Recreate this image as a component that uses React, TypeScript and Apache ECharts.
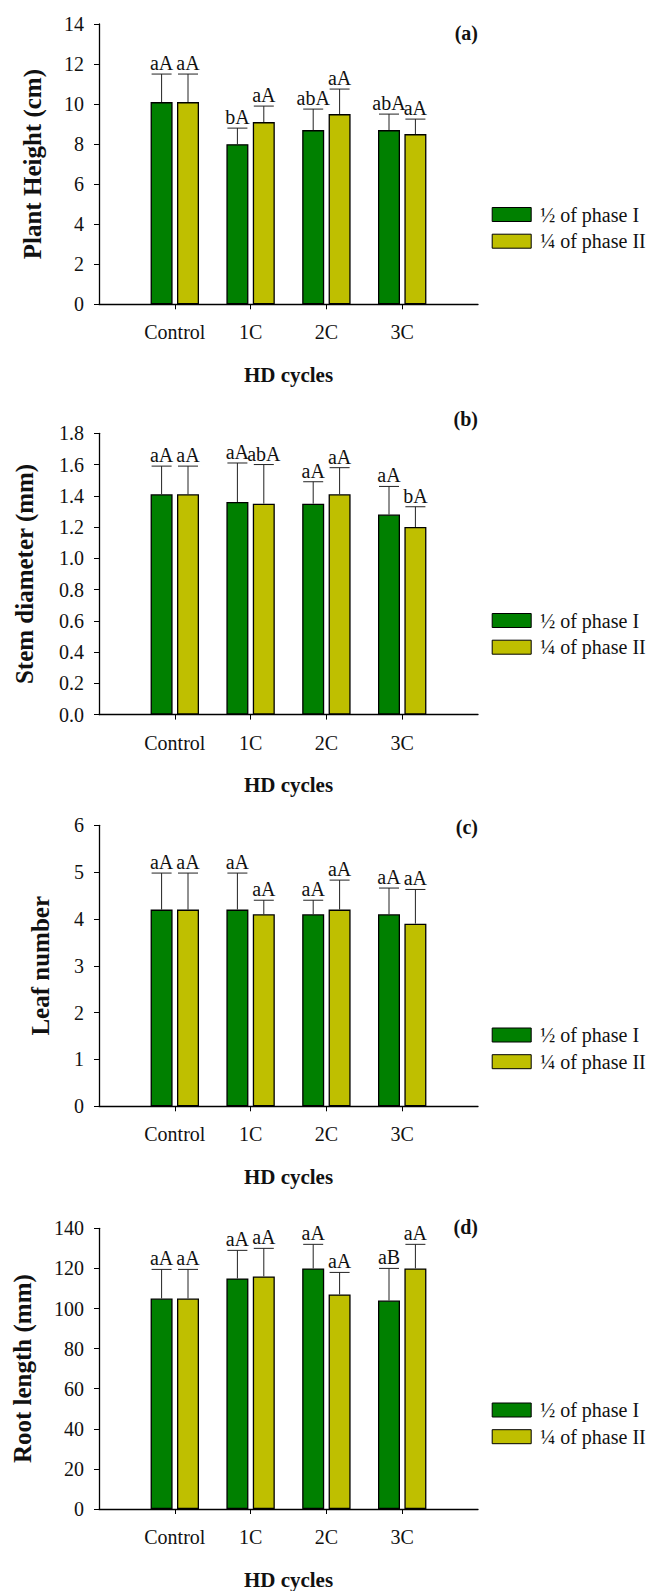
import React, { useEffect, useRef } from "react";
import * as echarts from "echarts";

const categories = ["Control", "1C", "2C", "3C"];
const seriesNames = ["½ of phase I", "¼ of phase II"];

// (a) Plant height (cm)
const heightHalf = [10.1, 8.0, 8.7, 8.7];
const heightHalfSd = [1.4, 0.8, 1.05, 0.8];
const heightQuarter = [10.1, 9.1, 9.5, 8.5];
const heightQuarterSd = [1.4, 0.8, 1.25, 0.75];
const heightHalfLetters = ["aA", "bA", "abA", "abA"];
const heightQuarterLetters = ["aA", "aA", "aA", "aA"];

// (b) Stem diameter (mm)
const stemHalf = [1.41, 1.36, 1.35, 1.28];
const stemHalfSd = [0.18, 0.25, 0.14, 0.18];
const stemQuarter = [1.41, 1.35, 1.41, 1.2];
const stemQuarterSd = [0.18, 0.25, 0.17, 0.13];
const stemHalfLetters = ["aA", "aA", "aA", "aA"];
const stemQuarterLetters = ["aA", "abA", "aA", "bA"];

// (c) Leaf number
const leafHalf = [4.2, 4.2, 4.1, 4.1];
const leafHalfSd = [0.78, 0.78, 0.3, 0.56];
const leafQuarter = [4.2, 4.1, 4.2, 3.9];
const leafQuarterSd = [0.78, 0.3, 0.63, 0.73];
const leafHalfLetters = ["aA", "aA", "aA", "aA"];
const leafQuarterLetters = ["aA", "aA", "aA", "aA"];

// (d) Root length (mm)
const rootHalf = [105, 115, 120, 104];
const rootHalfSd = [14.5, 14, 12, 16];
const rootQuarter = [105, 116, 107, 120];
const rootQuarterSd = [14.5, 14, 11, 12];
const rootHalfLetters = ["aA", "aA", "aA", "aB"];
const rootQuarterLetters = ["aA", "aA", "aA", "aA"];

const FONT = '"Liberation Serif", "Times New Roman", serif';
const GREEN = "#008000";
const YELLOW = "#BFBF00";

type Panel = {
  tag: string;
  yTitle: string;
  max: number;
  interval: number;
  decimals: number;
  half: number[];
  halfSd: number[];
  quarter: number[];
  quarterSd: number[];
  halfLetters: string[];
  quarterLetters: string[];
  top: number;
  height: number;
  nameGap: number;
  tagY: number;
  legendTop: number;
};

const panels: Panel[] = [
  {
    tag: "(a)", yTitle: "Plant Height (cm)", max: 14, interval: 2, decimals: 0,
    half: heightHalf, halfSd: heightHalfSd, quarter: heightQuarter, quarterSd: heightQuarterSd,
    halfLetters: heightHalfLetters, quarterLetters: heightQuarterLetters,
    top: 24, height: 280.3, nameGap: 54, tagY: 34, legendTop: 204.5,
  },
  {
    tag: "(b)", yTitle: "Stem diameter (mm)", max: 1.8, interval: 0.2, decimals: 1,
    half: stemHalf, halfSd: stemHalfSd, quarter: stemQuarter, quarterSd: stemQuarterSd,
    halfLetters: stemHalfLetters, quarterLetters: stemQuarterLetters,
    top: 433.3, height: 281.3, nameGap: 62, tagY: 420, legendTop: 610.5,
  },
  {
    tag: "(c)", yTitle: "Leaf number", max: 6, interval: 1, decimals: 0,
    half: leafHalf, halfSd: leafHalfSd, quarter: leafQuarter, quarterSd: leafQuarterSd,
    halfLetters: leafHalfLetters, quarterLetters: leafQuarterLetters,
    top: 825.3, height: 281, nameGap: 46, tagY: 828, legendTop: 1025,
  },
  {
    tag: "(d)", yTitle: "Root length (mm)", max: 140, interval: 20, decimals: 0,
    half: rootHalf, halfSd: rootHalfSd, quarter: rootQuarter, quarterSd: rootQuarterSd,
    halfLetters: rootHalfLetters, quarterLetters: rootQuarterLetters,
    top: 1228.3, height: 281.4, nameGap: 64, tagY: 1228, legendTop: 1400,
  },
];

const GRID_LEFT = 99;
const GRID_RIGHT_EDGE = 478;
const BAR_W = 22;
const BAR_GAP = "20%";
const BAR_OFFSET = 13.2;
const CAP_W = 20;

function errorSeries(p: Panel, i: number, which: 0 | 1) {
  const means = which === 0 ? p.half : p.quarter;
  const sds = which === 0 ? p.halfSd : p.quarterSd;
  const letters = which === 0 ? p.halfLetters : p.quarterLetters;
  const dx = which === 0 ? -BAR_OFFSET : BAR_OFFSET;
  return {
    type: "custom",
    xAxisIndex: i,
    yAxisIndex: i,
    z: 5,
    silent: true,
    data: means.map((m, k) => [k + 1, m, m + sds[k]]),
    renderItem: (params: any, api: any) => {
      const base = api.coord([api.value(0), api.value(1)]);
      const top = api.coord([api.value(0), api.value(2)]);
      const x = base[0] + dx;
      return {
        type: "group",
        children: [
          {
            type: "line",
            shape: { x1: x, y1: base[1], x2: x, y2: top[1] },
            style: { stroke: "#222", lineWidth: 1 },
          },
          {
            type: "line",
            shape: { x1: x - CAP_W / 2, y1: top[1], x2: x + CAP_W / 2, y2: top[1] },
            style: { stroke: "#222", lineWidth: 1 },
          },
          {
            type: "text",
            style: {
              text: letters[params.dataIndex],
              x: x,
              y: top[1] - 1,
              align: "center",
              verticalAlign: "bottom",
              fontSize: 20,
              fontFamily: FONT,
              fill: "#111",
            },
          },
        ],
      };
    },
  };
}

export default function App() {
  const ref = useRef<HTMLDivElement>(null);

  useEffect(() => {
    if (!ref.current) return;
    const chart = echarts.init(ref.current, undefined, { renderer: "svg" });
    const axisCats = ["", ...categories, " "];

    const grid: any[] = [];
    const xAxis: any[] = [];
    const yAxis: any[] = [];
    const series: any[] = [];
    const legend: any[] = [];
    const graphic: any[] = [];

    panels.forEach((p, i) => {
      grid.push({
        left: GRID_LEFT,
        width: GRID_RIGHT_EDGE - GRID_LEFT,
        top: p.top,
        height: p.height,
        containLabel: false,
      });
      xAxis.push({
        type: "category",
        gridIndex: i,
        data: axisCats,
        boundaryGap: false,
        axisLine: { show: true, lineStyle: { color: "#000", width: 1.3 } },
        axisTick: {
          show: true,
          inside: false,
          length: 5,
          interval: (index: number) => index >= 1 && index <= categories.length,
          lineStyle: { color: "#000", width: 1 },
        },
        axisLabel: {
          interval: 0,
          margin: 18,
          fontSize: 20,
          fontFamily: FONT,
          color: "#111",
        },
        splitLine: { show: false },
        name: "HD cycles",
        nameLocation: "middle",
        nameGap: 60,
        nameTextStyle: { fontSize: 21, fontWeight: "bold", fontFamily: FONT, color: "#111" },
      });
      yAxis.push({
        type: "value",
        gridIndex: i,
        min: 0,
        max: p.max,
        interval: p.interval,
        axisLine: { show: true, lineStyle: { color: "#000", width: 1.3 } },
        axisTick: { show: true, inside: false, length: 5, lineStyle: { color: "#000", width: 1 } },
        axisLabel: {
          margin: 15,
          fontSize: 20,
          fontFamily: FONT,
          color: "#111",
          formatter: (v: number) => v.toFixed(p.decimals),
        },
        splitLine: { show: false },
        name: p.yTitle,
        nameLocation: "middle",
        nameGap: p.nameGap,
        nameTextStyle: { fontSize: 25, fontWeight: "bold", fontFamily: FONT, color: "#111" },
      });
      series.push({
        type: "bar",
        name: seriesNames[0],
        xAxisIndex: i,
        yAxisIndex: i,
        barWidth: BAR_W,
        barGap: BAR_GAP,
        itemStyle: { color: GREEN, borderColor: "#000", borderWidth: 1.3 },
        data: ["-", ...p.half, "-"],
      });
      series.push({
        type: "bar",
        name: seriesNames[1],
        xAxisIndex: i,
        yAxisIndex: i,
        barWidth: BAR_W,
        barGap: BAR_GAP,
        itemStyle: { color: YELLOW, borderColor: "#000", borderWidth: 1.3 },
        data: ["-", ...p.quarter, "-"],
      });
      series.push(errorSeries(p, i, 0));
      series.push(errorSeries(p, i, 1));
      legend.push({
        orient: "vertical",
        left: 491.7,
        top: p.legendTop,
        padding: 0,
        itemWidth: 39,
        itemHeight: 14,
        itemGap: 6.7,
        selectedMode: false,
        data: seriesNames,
        icon: "rect",
        itemStyle: { borderColor: "#000", borderWidth: 1 },
        textStyle: { fontSize: 20, fontFamily: FONT, color: "#111", padding: [0, 0, 0, 4] },
      });
      graphic.push({
        type: "text",
        right: 655 - GRID_RIGHT_EDGE,
        top: p.tagY - 11,
        style: {
          text: p.tag,
          fontSize: 20,
          fontWeight: "bold",
          fontFamily: FONT,
          fill: "#111",
        },
      });
    });

    chart.setOption({
      animation: false,
      backgroundColor: "#fff",
      textStyle: { fontFamily: FONT },
      grid,
      xAxis,
      yAxis,
      series,
      legend,
      graphic,
    });

    return () => chart.dispose();
  }, []);

  return (
    <div
      ref={ref}
      style={{ position: "absolute", left: 0, top: 0, width: 655, height: 1591, background: "#fff" }}
    />
  );
}
